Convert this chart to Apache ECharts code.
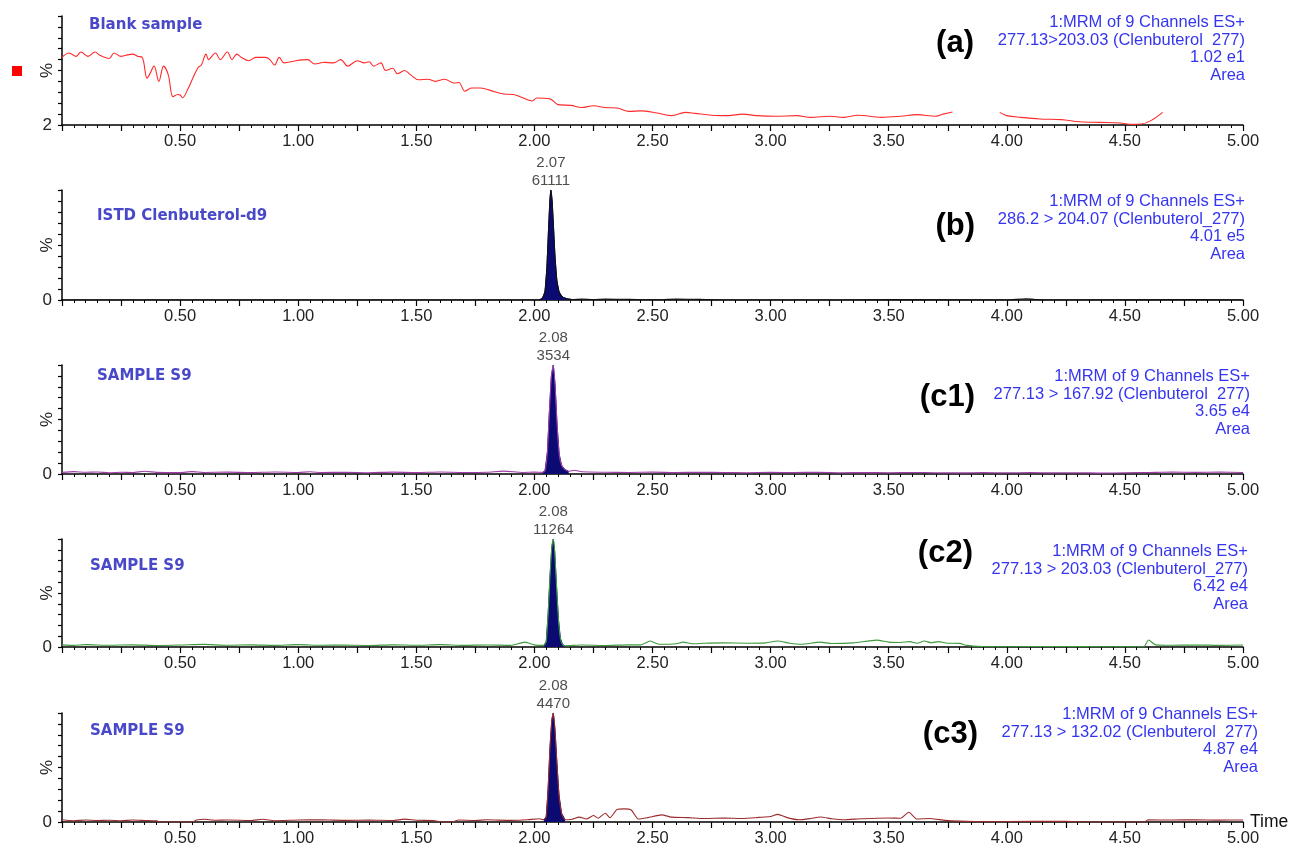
<!DOCTYPE html>
<html>
<head>
<meta charset="utf-8">
<title>Clenbuterol MRM chromatograms</title>
<script src="https://cdn.jsdelivr.net/npm/echarts@6/dist/echarts.min.js"></script>
<style>
html, body { margin: 0; padding: 0; background: #fff; }
#chart { width: 1293px; height: 847px; }
</style>
</head>
<body>
<div id="chart"></div>
<script>
// ===== data: [time (min), intensity (% of panel full scale)] =====

// (a) blank sample, trace has a gap between 3.77 and 3.97 min
var blankSeg1 = [
    [0.00, 62], [0.03, 66], [0.06, 63], [0.08, 67], [0.11, 63], [0.14, 67], [0.16, 64],
    [0.20, 61], [0.22, 66], [0.25, 63], [0.27, 64], [0.30, 65], [0.32, 63], [0.34, 62],
    [0.36, 43], [0.37, 46], [0.39, 54], [0.41, 40], [0.43, 54], [0.45, 46], [0.47, 26],
    [0.49, 28], [0.50, 27.5], [0.51, 25], [0.535, 34], [0.556, 44], [0.577, 53], [0.59, 55],
    [0.61, 65], [0.62, 60], [0.65, 66], [0.67, 60], [0.70, 67], [0.72, 60], [0.74, 65],
    [0.76, 62], [0.79, 59], [0.82, 62], [0.86, 62], [0.88, 60], [0.90, 55], [0.92, 62],
    [0.94, 57], [0.99, 59], [1.04, 60], [1.07, 56], [1.11, 57.5], [1.15, 57], [1.18, 60],
    [1.21, 54], [1.25, 59], [1.28, 57], [1.30, 58], [1.32, 54], [1.35, 57], [1.37, 50],
    [1.40, 52], [1.42, 47], [1.45, 50], [1.476, 46], [1.51, 41.5], [1.55, 42], [1.58, 40],
    [1.62, 42], [1.66, 38.5], [1.68, 39], [1.706, 31], [1.733, 34], [1.77, 34], [1.81, 32],
    [1.87, 28.4], [1.91, 28], [1.94, 26], [1.99, 22], [2.01, 24.8], [2.066, 24], [2.10, 18.7],
    [2.155, 18], [2.20, 16], [2.25, 17.7], [2.30, 16], [2.35, 15.6], [2.40, 12.5], [2.45, 13],
    [2.52, 11], [2.58, 8.6], [2.64, 11.6], [2.68, 10.7], [2.75, 9], [2.82, 8.6], [2.88, 10],
    [2.94, 8.6], [3.02, 8], [3.11, 8.6], [3.17, 7], [3.25, 8], [3.31, 7], [3.37, 9],
    [3.47, 7], [3.55, 8], [3.62, 9.5], [3.70, 8], [3.73, 10], [3.77, 12]
];
var blankSeg2 = [
    [3.97, 11.6], [4.00, 8.6], [4.06, 7], [4.14, 5.5], [4.23, 4.9], [4.31, 3], [4.39, 2.4],
    [4.48, 1.8], [4.53, 0.6], [4.57, 0.9], [4.61, 4], [4.66, 11.6]
];

// (b) ISTD Clenbuterol-d9
var istdBefore = [[0.00, 0], [1.00, 0], [2.02, 0]];
var istdPeak = [
    [2.02, 0], [2.035, 2], [2.045, 8], [2.053, 30], [2.06, 65], [2.066, 92], [2.07, 100],
    [2.075, 90], [2.08, 70], [2.087, 40], [2.095, 18], [2.105, 7], [2.12, 2.5], [2.14, 1], [2.16, 0.4]
];
var istdAfter = [
    [2.20, 0.8], [2.25, 0.4], [2.30, 0.8], [2.40, 0.6], [2.50, 0.2], [2.60, 0.8], [2.70, 0.6],
    [2.80, 0], [3.30, 0], [3.50, 0.3], [4.00, 0], [4.08, 1.2], [4.12, 0.5], [4.20, 0],
    [4.80, 0.3], [5.00, 0]
];

// (c1) sample S9, 277.13 > 167.92
var c1Before = [
    [0.00, 1.5], [0.05, 2.2], [0.10, 1.6], [0.15, 1.8], [0.20, 1.2], [0.25, 1.6], [0.30, 1.4],
    [0.35, 2.5], [0.40, 1.5], [0.50, 1.3], [0.55, 2.2], [0.60, 1.4], [0.70, 1.7], [0.80, 1.3],
    [0.90, 1.8], [1.00, 1.4], [1.05, 2.0], [1.10, 1.3], [1.20, 1.6], [1.30, 1.2], [1.40, 1.7],
    [1.50, 1.3], [1.60, 1.8], [1.70, 1.4], [1.80, 1.6], [1.87, 2.6], [1.95, 1.4], [2.00, 1.7]
];
var c1Peak = [
    [2.035, 1.5], [2.045, 3], [2.055, 20], [2.063, 55], [2.072, 90], [2.08, 100], [2.088, 80],
    [2.096, 45], [2.105, 18], [2.115, 8], [2.13, 4], [2.145, 2.5]
];
var c1After = [
    [2.17, 3.5], [2.20, 2.0], [2.30, 1.6], [2.40, 1.4], [2.50, 1.7], [2.60, 1.3], [2.70, 1.6],
    [2.80, 1.4], [2.90, 1.2], [3.00, 1.5], [3.10, 1.3], [3.20, 1.6], [3.30, 1.2], [3.40, 1.4],
    [3.50, 1.1], [3.60, 1.4], [3.70, 1.2], [3.80, 1.0], [3.90, 1.3], [4.00, 1.1], [4.10, 1.3],
    [4.20, 1.0], [4.30, 1.2], [4.40, 0.8], [4.50, 1.1], [4.60, 1.4], [4.70, 1.8], [4.80, 1.5],
    [4.90, 1.7], [5.00, 1.4]
];

// (c2) sample S9, 277.13 > 203.03
var c2Before = [
    [0.00, 2.0], [0.05, 1.5], [0.10, 2.2], [0.20, 1.6], [0.30, 2.0], [0.40, 1.4], [0.50, 1.8],
    [0.60, 2.4], [0.70, 1.6], [0.80, 2.0], [0.90, 1.5], [1.00, 2.2], [1.10, 1.6], [1.20, 1.9],
    [1.30, 1.4], [1.40, 2.0], [1.50, 1.6], [1.60, 2.2], [1.70, 1.5], [1.80, 1.9], [1.90, 1.5],
    [1.96, 4.5], [2.00, 2.0]
];
var c2Peak = [
    [2.04, 1.5], [2.05, 5], [2.058, 30], [2.066, 65], [2.074, 93], [2.08, 100], [2.086, 88],
    [2.094, 55], [2.102, 25], [2.11, 8], [2.12, 2], [2.13, 1.2]
];
var c2After = [
    [2.20, 1.8], [2.30, 1.4], [2.40, 2.0], [2.45, 2.0], [2.49, 5.5], [2.53, 2.5], [2.60, 3.0],
    [2.63, 4.5], [2.67, 3.0], [2.72, 3.5], [2.80, 3.8], [2.90, 3.5], [2.98, 3.8], [3.03, 5.5],
    [3.08, 3.5], [3.13, 2.5], [3.21, 4.5], [3.26, 3.2], [3.35, 3.8], [3.45, 6.4], [3.50, 4.5],
    [3.55, 4.2], [3.59, 5.0], [3.62, 3.5], [3.65, 5.5], [3.68, 4.0], [3.71, 5.0], [3.75, 3.5],
    [3.80, 3.4], [3.83, 1.5], [3.90, 0.5], [4.00, 0.3], [4.20, 0.5], [4.40, 0.2], [4.58, 0.3],
    [4.60, 6.5], [4.63, 2.0], [4.70, 1.6], [4.80, 1.9], [4.90, 1.5], [5.00, 1.8]
];

// (c3) sample S9, 277.13 > 132.02
var c3Before = [
    [0.00, 2.0], [0.05, 1.2], [0.10, 1.8], [0.15, 1.3], [0.20, 1.6], [0.25, 1.2], [0.30, 1.8],
    [0.35, 1.4], [0.40, 1.0], [0.42, 0], [0.55, 0], [0.57, 1.8], [0.60, 2.5], [0.65, 1.6],
    [0.70, 1.8], [0.80, 1.4], [0.85, 2.5], [0.90, 1.2], [1.00, 1.8], [1.10, 2.0], [1.20, 1.5],
    [1.30, 1.8], [1.40, 1.3], [1.45, 2.6], [1.50, 1.6], [1.58, 1.2], [1.60, 0], [1.65, 0],
    [1.68, 1.8], [1.75, 1.4], [1.80, 2.0], [1.90, 1.5], [1.97, 2.0], [2.02, 3.0]
];
var c3Peak = [
    [2.04, 2], [2.05, 5], [2.058, 30], [2.066, 68], [2.074, 94], [2.08, 100], [2.087, 85],
    [2.095, 55], [2.104, 25], [2.115, 8], [2.13, 2]
];
var c3After = [
    [2.16, 2.5], [2.19, 4.5], [2.22, 2.8], [2.25, 6], [2.27, 3.5], [2.30, 8], [2.32, 4],
    [2.35, 11.5], [2.38, 12], [2.41, 11], [2.44, 2.7], [2.48, 4], [2.54, 6.5], [2.58, 4.5],
    [2.65, 4], [2.72, 3.2], [2.80, 3.6], [2.88, 3.2], [2.95, 4.2], [3.00, 5], [3.03, 7],
    [3.07, 4], [3.12, 2], [3.17, 3.2], [3.21, 4.6], [3.26, 3], [3.31, 2], [3.38, 3],
    [3.45, 3.5], [3.50, 3.7], [3.55, 3.5], [3.585, 8.9], [3.62, 2.7], [3.67, 3.2], [3.74, 1.5],
    [3.80, 0.8], [3.90, 0.3], [4.00, 0.5], [4.25, 0.6], [4.30, 0], [4.58, 0], [4.60, 2],
    [4.70, 1.8], [4.80, 2.1], [4.90, 1.7], [5.00, 1.9]
];

// peak annotations: [retention time, height %, area]
var peakLabels = [null, [2.07, 100, '61111'], [2.08, 100, '3534'], [2.08, 100, '11264'], [2.08, 100, '4470']];

var panelNames = ['Blank sample', 'ISTD Clenbuterol-d9', 'SAMPLE S9', 'SAMPLE S9', 'SAMPLE S9'];
var panelTags = ['(a)', '(b)', '(c1)', '(c2)', '(c3)'];
var panelInfo = [
    ['1:MRM of 9 Channels ES+', '277.13>203.03 (Clenbuterol  277)', '1.02 e1', 'Area'],
    ['1:MRM of 9 Channels ES+', '286.2 > 204.07 (Clenbuterol_277)', '4.01 e5', 'Area'],
    ['1:MRM of 9 Channels ES+', '277.13 > 167.92 (Clenbuterol  277)', '3.65 e4', 'Area'],
    ['1:MRM of 9 Channels ES+', '277.13 > 203.03 (Clenbuterol_277)', '6.42 e4', 'Area'],
    ['1:MRM of 9 Channels ES+', '277.13 > 132.02 (Clenbuterol  277)', '4.87 e4', 'Area']
];
var yMinLabels = ['2', '0', '0', '0', '0'];

// ===== layout =====
var gridTop = [16, 190, 365, 539, 713];
var gridHeight = [109, 110, 109, 108, 109];
var nameXY = [[89, 25], [97, 216], [97, 376], [90, 566], [90, 731]];
var tagXY = [[974, 43], [975, 226], [975, 397], [973, 553], [978, 734]];
var infoXY = [[1245, 23], [1245, 202], [1250, 377], [1248, 552], [1258, 715]];
var traceColors = ['#ff2a2a', '#111111', '#a03ca8', '#3d9a3d', '#9c2c2c'];
var peakFill = '#0a0a72';
var AXIS_FONT = '"Liberation Sans", Arial, sans-serif';

var chart = echarts.init(document.getElementById('chart'), null, { renderer: 'canvas' });

var grids = [], xAxes = [], yAxes = [], series = [], graphics = [];

for (var i = 0; i < 5; i++) {
    grids.push({
        left: 62, right: 50, top: gridTop[i], height: gridHeight[i],
        containLabel: false, outerBoundsMode: 'none'
    });

    xAxes.push({
        type: 'value', gridIndex: i, min: 0, max: 5, interval: 0.25,
        axisLine: { lineStyle: { color: '#000', width: 1.5 } },
        axisTick: { length: 6, lineStyle: { color: '#000', width: 1.2 } },
        minorTick: { show: true, splitNumber: 5, length: 3, lineStyle: { color: '#000', width: 1 } },
        splitLine: { show: false },
        axisLabel: {
            margin: 8, color: '#222', fontSize: 16.5, fontFamily: AXIS_FONT,
            formatter: function (v) {
                if (v > 0 && Math.abs(v * 2 - Math.round(v * 2)) < 1e-6) return v.toFixed(2);
                return '';
            }
        },
        name: i === 4 ? 'Time' : '',
        nameLocation: 'end', nameGap: 7,
        nameMoveOverlap: false,
        nameTextStyle: {
            color: '#111', fontSize: 17.5, fontFamily: AXIS_FONT,
            align: 'left', verticalAlign: 'middle'
        }
    });

    (function (lbl) {
        yAxes.push({
            type: 'value', gridIndex: i, min: 0, max: 100, interval: 10,
            axisLine: { show: true, lineStyle: { color: '#000', width: 1.5 } },
            axisTick: { show: true, length: 4, lineStyle: { color: '#000', width: 1.2 } },
            splitLine: { show: false },
            axisLabel: {
                margin: 10, color: '#222', fontSize: 17, fontFamily: AXIS_FONT,
                formatter: function (v) { return v === 0 ? lbl : ''; }
            },
            name: '%', nameLocation: 'middle', nameGap: 6, nameRotate: 90,
            nameMoveOverlap: false,
            nameTextStyle: { color: '#222', fontSize: 17, fontFamily: AXIS_FONT }
        });
    })(yMinLabels[i]);
}

function lineSeries(idx, data, color, extra) {
    var s = {
        type: 'line', xAxisIndex: idx, yAxisIndex: idx, data: data,
        showSymbol: false, symbol: 'none', silent: true,
        lineStyle: { color: color, width: 1.1 }
    };
    if (extra) for (var k in extra) s[k] = extra[k];
    return s;
}

// (a) blank
series.push(lineSeries(0, blankSeg1, traceColors[0], { smooth: 0.35 }));
series.push(lineSeries(0, blankSeg2, traceColors[0], { smooth: 0.35 }));

var befores = [null, istdBefore, c1Before, c2Before, c3Before];
var peaks = [null, istdPeak, c1Peak, c2Peak, c3Peak];
var afters = [null, istdAfter, c1After, c2After, c3After];

for (var p = 1; p < 5; p++) {
    // filled peak
    series.push(lineSeries(p, peaks[p], peakFill, {
        areaStyle: { color: peakFill, opacity: 1 },
        lineStyle: { color: peakFill, width: 1 }
    }));
    // full trace on top
    series.push(lineSeries(p, befores[p].concat(peaks[p], afters[p]), traceColors[p], { smooth: 0.2 }));
    // retention time / area label over apex
    (function (pl) {
        series.push({
            type: 'scatter', xAxisIndex: p, yAxisIndex: p, silent: true,
            data: [[pl[0], pl[1]]],
            symbol: 'circle', symbolSize: 1, itemStyle: { color: 'rgba(0,0,0,0)' },
            label: {
                show: true, position: 'top', distance: 0,
                color: '#222', fontSize: 15, lineHeight: 18, fontFamily: AXIS_FONT,
                formatter: function () { return pl[0].toFixed(2) + '\n' + pl[2]; }
            }
        });
    })(peakLabels[p]);
}

// titles, tags and instrument info text
for (var g = 0; g < 5; g++) {
    graphics.push({
        type: 'text', x: nameXY[g][0], y: nameXY[g][1],
        style: {
            text: panelNames[g], fill: '#4848c8',
            font: 'bold 15px "DejaVu Sans", Verdana, sans-serif',
            textAlign: 'left', textVerticalAlign: 'middle'
        }
    });
    graphics.push({
        type: 'text', x: tagXY[g][0], y: tagXY[g][1],
        style: {
            text: panelTags[g], fill: '#000',
            font: 'bold 31px "Liberation Sans", Arial, sans-serif',
            textAlign: 'right', textVerticalAlign: 'middle'
        }
    });
    graphics.push({
        type: 'text', x: infoXY[g][0], y: infoXY[g][1] - 9,
        style: {
            text: panelInfo[g].join('\n'), fill: '#3535f0',
            font: '16.5px "Liberation Sans", Arial, sans-serif',
            lineHeight: 17.5,
            textAlign: 'right', textVerticalAlign: 'top'
        }
    });
}
// small red marker at left of panel (a)
graphics.push({
    type: 'rect', shape: { x: 12, y: 66, width: 10, height: 10 },
    style: { fill: '#ff0000' }
});

chart.setOption({
    animation: false,
    backgroundColor: '#fff',
    grid: grids,
    xAxis: xAxes,
    yAxis: yAxes,
    series: series,
    graphic: graphics
});

window.addEventListener('resize', function () { chart.resize(); });
</script>
</body>
</html>
